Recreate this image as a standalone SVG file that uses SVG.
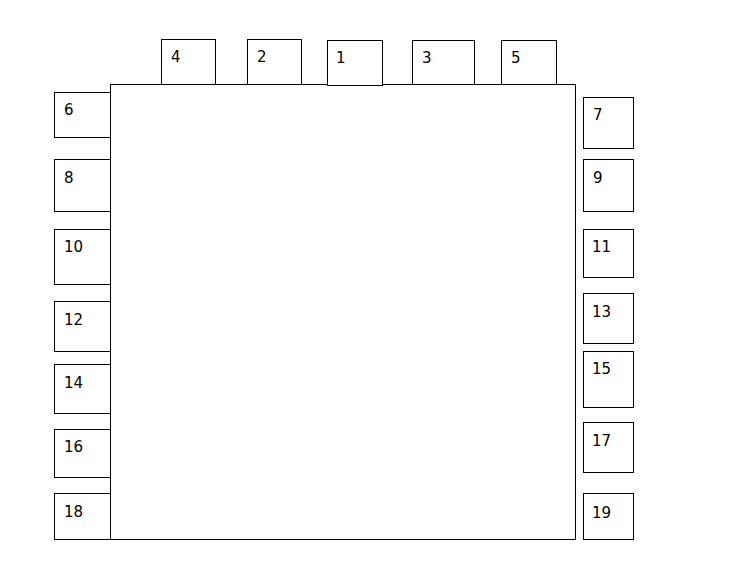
<svg xmlns="http://www.w3.org/2000/svg" width="730" height="576" viewBox="0 0 730 576">
<style>
rect{fill:#fff;stroke:#000;stroke-width:1}
text{font-family:"Comic Sans MS","DejaVu Sans","Liberation Sans",sans-serif;font-size:15px;fill:#000}
</style>
<rect x="0" y="0" width="730" height="576" style="stroke:none"/>
<g id="connectors"></g>
<g id="main"><rect x="110.5" y="84.5" width="465" height="455"/></g>
<g id="n4"><rect x="161.5" y="39.5" width="54" height="45"/><text x="171" y="62">4</text></g>
<g id="n2"><rect x="247.5" y="39.5" width="54" height="45"/><text x="257" y="62">2</text></g>
<g id="n1"><rect x="327.5" y="40.5" width="55" height="45"/><text x="336" y="63">1</text></g>
<g id="n3"><rect x="412.5" y="40.5" width="62" height="44"/><text x="422" y="63">3</text></g>
<g id="n5"><rect x="501.5" y="40.5" width="55" height="44"/><text x="511" y="63">5</text></g>
<g id="n6"><rect x="54.5" y="92.5" width="56" height="45"/><text x="64" y="115">6</text></g>
<g id="n8"><rect x="54.5" y="159.5" width="56" height="52"/><text x="64" y="183">8</text></g>
<g id="n10"><rect x="54.5" y="229.5" width="56" height="55"/><text x="64" y="252">10</text></g>
<g id="n12"><rect x="54.5" y="301.5" width="56" height="50"/><text x="64" y="325">12</text></g>
<g id="n14"><rect x="54.5" y="364.5" width="56" height="49"/><text x="64" y="388">14</text></g>
<g id="n16"><rect x="54.5" y="429.5" width="56" height="48"/><text x="64" y="452">16</text></g>
<g id="n18"><rect x="54.5" y="493.5" width="56" height="46"/><text x="64" y="517">18</text></g>
<g id="n7"><rect x="583.5" y="97.5" width="50" height="51"/><text x="593" y="120">7</text></g>
<g id="n9"><rect x="583.5" y="159.5" width="50" height="52"/><text x="593" y="183">9</text></g>
<g id="n11"><rect x="583.5" y="229.5" width="50" height="48"/><text x="592" y="252">11</text></g>
<g id="n13"><rect x="583.5" y="293.5" width="50" height="50"/><text x="592" y="317">13</text></g>
<g id="n15"><rect x="583.5" y="351.5" width="50" height="56"/><text x="592" y="374">15</text></g>
<g id="n17"><rect x="583.5" y="422.5" width="50" height="50"/><text x="592" y="446">17</text></g>
<g id="n19"><rect x="583.5" y="493.5" width="50" height="46"/><text x="592" y="518">19</text></g>
</svg>
